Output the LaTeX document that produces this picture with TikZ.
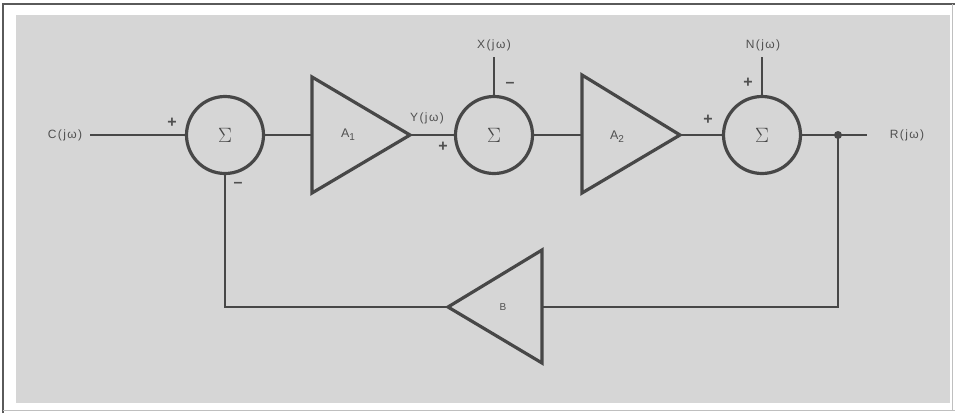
\documentclass[tikz,border=0pt]{standalone}
\usepackage{fontspec}
\setmainfont{Liberation Sans}
\newfontfamily\lblfont[LetterSpace=12]{Liberation Sans}
\begin{document}
\begin{tikzpicture}[x=1pt,y=-1pt,
  every node/.style={inner sep=0pt,outer sep=0pt},
  wire/.style={draw=lineC,line width=2.2pt},
  shapeline/.style={draw=lineC,line width=3.2pt,line join=miter},
  sumnode/.style={circle,draw=lineC,line width=3.2pt,minimum size=77pt,text=lineC,font=\fontsize{20}{20}\selectfont},
  lbl/.style={text=txtC,font=\lblfont\fontsize{12}{12}\selectfont},
  sign/.style={text=txtC,font=\fontsize{16}{16}\selectfont\bfseries},
  gain/.style={text=txtC,font=\lblfont\fontsize{12.5}{12.5}\selectfont}]
\definecolor{lineC}{HTML}{474747}
\definecolor{txtC}{HTML}{505050}
\definecolor{bgC}{HTML}{D6D6D6}
\definecolor{frameC}{HTML}{5A5A5A}
\useasboundingbox (0,0) rectangle (955,413);
\fill[white] (0,0) rectangle (955,413);
\fill[bgC] (16,15) rectangle (950,403);
\draw[frameC,line width=2pt] (3,413) -- (3,4) -- (955,4);
\draw[black!25,line width=1pt] (3,410) -- (955,410);
\draw[black!25,line width=1pt] (952,4) -- (952,410);

% summing junctions
\node[sumnode] (s1) at (225,135) {$\Sigma$};
\node[sumnode] (s2) at (494,135) {$\Sigma$};
\node[sumnode] (s3) at (762,135) {$\Sigma$};

% amplifier A1
\draw[shapeline] (312,77) -- (410,135) -- (312,193) -- cycle;
\coordinate (a1in) at (312,135);
\coordinate (a1out) at (410,135);
\node[gain] (a1l) at (348,135) {A\raisebox{-0.4ex}{\fontsize{10}{10}\selectfont 1}};
% amplifier A2
\draw[shapeline] (582,75) -- (680,135) -- (582,193) -- cycle;
\coordinate (a2in) at (582,135);
\coordinate (a2out) at (680,135);
\node[gain] (a2l) at (617,137) {A\raisebox{-0.4ex}{\fontsize{10}{10}\selectfont 2}};
% feedback B
\draw[shapeline] (542,250) -- (448,307) -- (542,363) -- cycle;
\coordinate (bin) at (542,307);
\coordinate (bout) at (448,307);
\node[gain,font=\lblfont\fontsize{10}{10}\selectfont] (bl) at (503,307) {B};

% labels
\node[lbl] (C) at (65,135) {C(jω)};
\node[lbl] (Y) at (427,118) {Y(jω)};
\node[lbl] (X) at (494,45) {X(jω)};
\node[lbl] (N) at (763,45) {N(jω)};
\node[lbl] (R) at (907,135) {R(jω)};
\coordinate (xin) at (494,57);
\coordinate (nin) at (762,57);
\coordinate (cin) at (90,135);
\coordinate (rout) at (867,135);
\coordinate (dot) at (838,135);
\coordinate (fb1) at (838,307);
\coordinate (fb2) at (225,307);

% signs
\node[sign] (p1) at (172,123) {+};
\node[sign] (m1) at (238,185) {\textendash};
\node[sign] (p2) at (443,147) {+};
\node[sign] (m2) at (510,85) {\textendash};
\node[sign] (p3) at (708,120) {+};
\node[sign] (p4) at (748,83) {+};

% wires
\draw[wire] (cin) -- (s1.west);
\draw[wire] (s1.east) -- (a1in);
\draw[wire] (a1out) -- (s2.west);
\draw[wire] (xin) -- (s2.north);
\draw[wire] (s2.east) -- (a2in);
\draw[wire] (a2out) -- (s3.west);
\draw[wire] (nin) -- (s3.north);
\draw[wire] (s3.east) -- (rout);
\draw[wire] (dot) -- (fb1) -- (bin);
\draw[wire] (bout) -- (fb2) -- (s1.south);
\fill[lineC] (dot) circle (4pt);
\end{tikzpicture}
\end{document}
